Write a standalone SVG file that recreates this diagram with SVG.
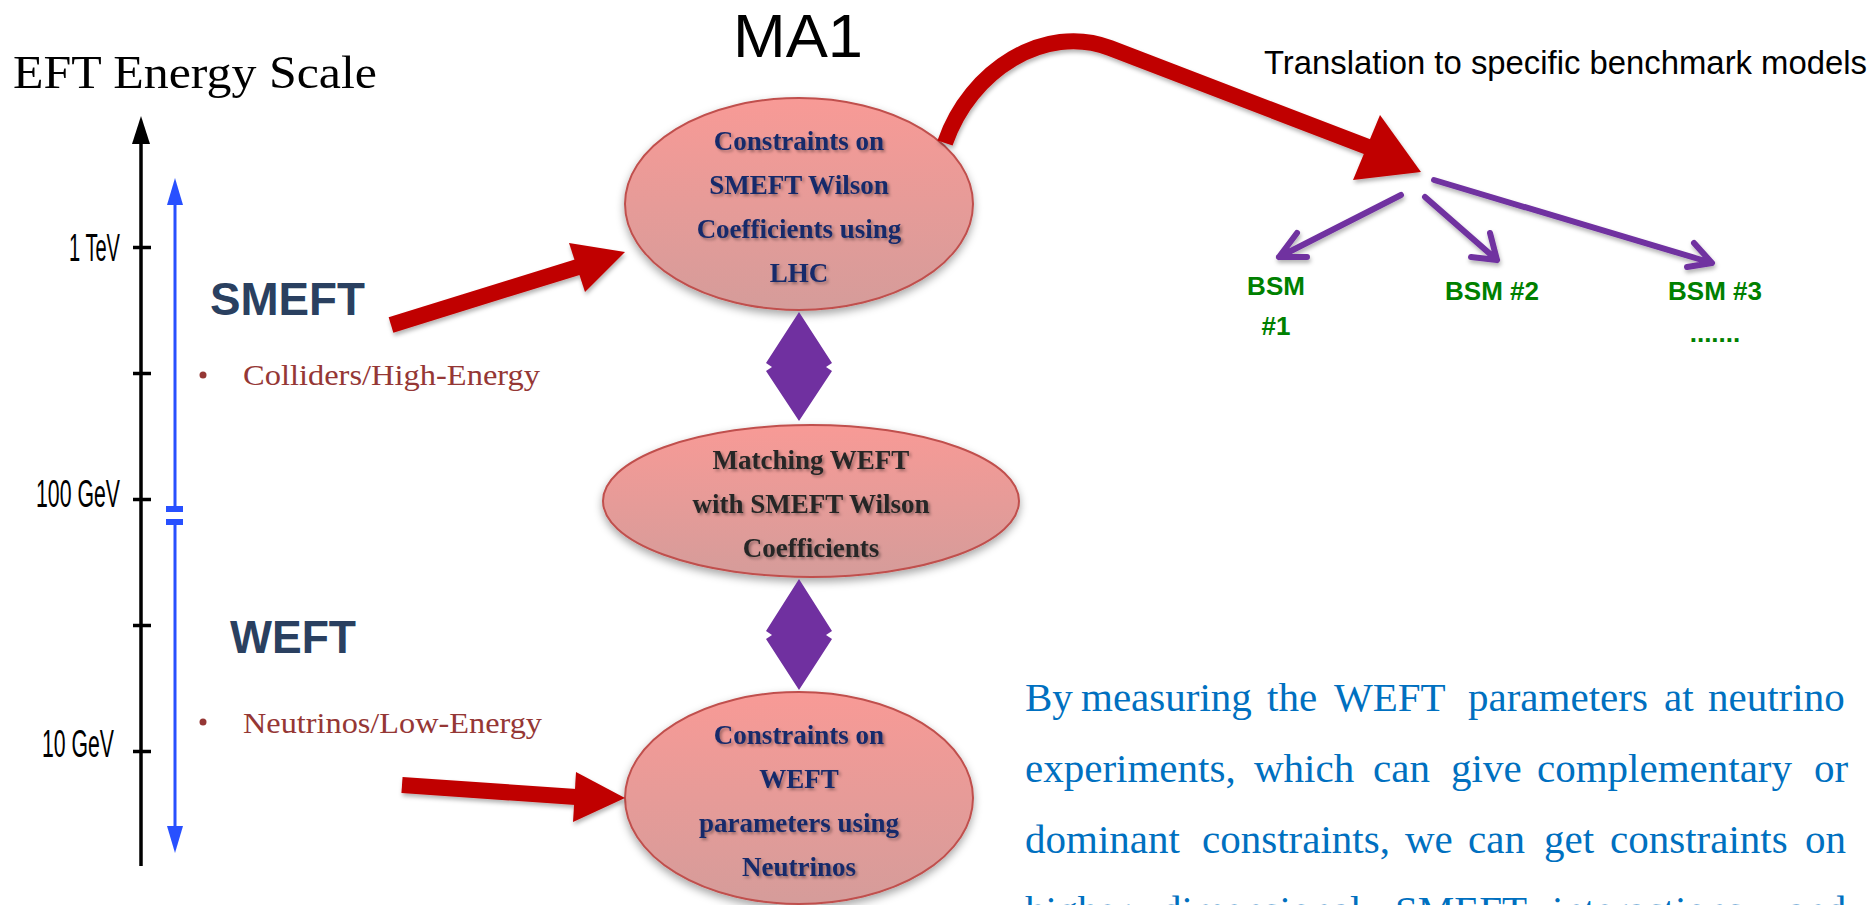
<svg xmlns="http://www.w3.org/2000/svg" width="1875" height="905" viewBox="0 0 1875 905">
<defs>
<linearGradient id="pink" x1="0" y1="0" x2="0" y2="1">
<stop offset="0" stop-color="#f89a96"/>
<stop offset="1" stop-color="#d59c9a"/>
</linearGradient>
<filter id="shadow" x="-20%" y="-20%" width="140%" height="150%">
<feDropShadow dx="0" dy="4" stdDeviation="4" flood-color="#000" flood-opacity="0.35"/>
</filter>
<filter id="tshadow" x="-10%" y="-30%" width="120%" height="160%">
<feDropShadow dx="2" dy="2" stdDeviation="1.5" flood-color="#000" flood-opacity="0.35"/>
</filter>
<filter id="ashadow" x="-10%" y="-10%" width="120%" height="130%">
<feDropShadow dx="1" dy="3" stdDeviation="2" flood-color="#000" flood-opacity="0.3"/>
</filter>
<style>
.ell{fill:url(#pink);stroke:#c0504d;stroke-width:2;filter:url(#shadow)}
.etxt{font-family:"Liberation Serif",serif;font-weight:bold;font-size:27px;text-anchor:middle;filter:url(#tshadow)}
.navy{fill:#172a6b}
.dark{fill:#262626}
.tick{stroke:#000;stroke-width:3.5}
.tlabel{font-family:"Liberation Sans",sans-serif;font-size:38px;fill:#000}
.eft{font-family:"Liberation Sans",sans-serif;font-weight:bold;font-size:46px;fill:#2a4060}
.bul{font-family:"Liberation Serif",serif;font-size:30px;fill:#953735}
.bsm{font-family:"Liberation Sans",sans-serif;font-weight:bold;font-size:26px;fill:#008000;text-anchor:middle}
.para{font-family:"Liberation Serif",serif;font-size:41px;fill:#0070c0}
.red{stroke:#c00000;fill:none;stroke-width:16}
.redh{fill:#c00000}
.pur{stroke:#7030a0;fill:none;stroke-width:6;stroke-linecap:round;stroke-linejoin:round}
.dia{fill:#7030a0}
</style>
</defs>
<rect width="1875" height="905" fill="#fff"/>

<g id="title-eft-scale">
<text x="13" y="88" font-family="Liberation Serif, serif" font-size="47" fill="#000" textLength="364" lengthAdjust="spacingAndGlyphs">EFT Energy Scale</text>
</g>

<g id="title-ma1">
<text x="733" y="57" font-family="Liberation Sans, sans-serif" font-size="62" fill="#000" textLength="130" lengthAdjust="spacingAndGlyphs">MA1</text>
</g>

<g id="energy-axis">
<line x1="141" y1="866" x2="141" y2="140" stroke="#000" stroke-width="3.5"/>
<polygon points="141,116 132,144 150,144" fill="#000"/>
<line class="tick" x1="133" y1="247.5" x2="151" y2="247.5"/>
<line class="tick" x1="133" y1="373.5" x2="151" y2="373.5"/>
<line class="tick" x1="133" y1="499.5" x2="151" y2="499.5"/>
<line class="tick" x1="133" y1="625.5" x2="151" y2="625.5"/>
<line class="tick" x1="133" y1="751.5" x2="151" y2="751.5"/>
<text class="tlabel" x="69" y="261" textLength="51" lengthAdjust="spacingAndGlyphs">1 TeV</text>
<text class="tlabel" x="36" y="507" textLength="84" lengthAdjust="spacingAndGlyphs">100 GeV</text>
<text class="tlabel" x="42" y="757" textLength="72" lengthAdjust="spacingAndGlyphs">10 GeV</text>
</g>

<g id="range-arrow">
<line x1="175" y1="200" x2="175" y2="507" stroke="#2850ff" stroke-width="3"/>
<polygon points="175,178 167,205 183,205" fill="#2850ff"/>
<rect x="166" y="506" width="17" height="6" fill="#2850ff"/>
<rect x="166" y="519" width="17" height="6" fill="#2850ff"/>
<line x1="175" y1="524" x2="175" y2="832" stroke="#2850ff" stroke-width="3"/>
<polygon points="175,853 167,826 183,826" fill="#2850ff"/>
</g>

<g id="smeft-label">
<text class="eft" x="210" y="315" textLength="155" lengthAdjust="spacingAndGlyphs">SMEFT</text>
<circle cx="203" cy="375" r="3.5" fill="#953735"/>
<text class="bul" x="243" y="385" textLength="297" lengthAdjust="spacingAndGlyphs">Colliders/High-Energy</text>
</g>

<g id="weft-label">
<text class="eft" x="230" y="653" textLength="126" lengthAdjust="spacingAndGlyphs">WEFT</text>
<circle cx="203" cy="722" r="3.5" fill="#953735"/>
<text class="bul" x="243" y="733" textLength="299" lengthAdjust="spacingAndGlyphs">Neutrinos/Low-Energy</text>
</g>

<g id="node-smeft-lhc">
<ellipse class="ell" cx="799" cy="204" rx="174" ry="106"/>
<text class="etxt navy" x="799" y="150">Constraints on</text>
<text class="etxt navy" x="799" y="194">SMEFT Wilson</text>
<text class="etxt navy" x="799" y="238">Coefficients using</text>
<text class="etxt navy" x="799" y="282">LHC</text>
</g>

<g id="node-matching">
<ellipse class="ell" cx="811" cy="501" rx="208" ry="76"/>
<text class="etxt dark" x="811" y="469">Matching WEFT</text>
<text class="etxt dark" x="811" y="513">with SMEFT Wilson</text>
<text class="etxt dark" x="811" y="557">Coefficients</text>
</g>

<g id="node-weft-neutrinos">
<ellipse class="ell" cx="799" cy="798" rx="174" ry="106"/>
<text class="etxt navy" x="799" y="744">Constraints on</text>
<text class="etxt navy" x="799" y="788">WEFT</text>
<text class="etxt navy" x="799" y="832">parameters using</text>
<text class="etxt navy" x="799" y="876">Neutrinos</text>
</g>

<g id="node-translation">
<text x="1264" y="74" font-family="Liberation Sans, sans-serif" font-size="33" fill="#000" textLength="603" lengthAdjust="spacingAndGlyphs">Translation to specific benchmark models</text>
</g>

<g id="node-bsm1">
<text class="bsm" x="1276" y="295">BSM</text>
<text class="bsm" x="1276" y="335">#1</text>
</g>
<g id="node-bsm2">
<text class="bsm" x="1492" y="300">BSM #2</text>
</g>
<g id="node-bsm3">
<text class="bsm" x="1715" y="300">BSM #3</text>
<text class="bsm" x="1715" y="342">.......</text>
</g>

<g id="connectors">
<g filter="url(#ashadow)">
<line class="red" x1="391" y1="325" x2="578" y2="267"/>
<polygon class="redh" points="569,243 625,252 585,292"/>
<line class="red" x1="402" y1="785" x2="576" y2="797"/>
<polygon class="redh" points="576,772 625,798 573,822"/>
<path class="red" stroke-width="20" d="M 945 143 C 970 70, 1045 23, 1110 48 L 1368 147"/>
<polygon class="redh" points="1380,115 1421,172 1353,180"/>
</g>
<polygon class="dia" points="799,312 832,363 826,367 832,371 799,421 766,371 772,367 766,363"/>
<polygon class="dia" points="799,579 832,631 826,635 832,639 799,690 766,639 772,635 766,631"/>
<g filter="url(#ashadow)">
<path class="pur" d="M 1401 195 L 1279 257 M 1297 233 L 1279 257 L 1307 257"/>
<path class="pur" d="M 1425 197 L 1497 260 M 1490 233 L 1497 260 L 1471 257"/>
<path class="pur" d="M 1434 180 L 1712 263 M 1694 243 L 1712 263 L 1687 267"/>
</g>
</g>

<g id="explanation" class="para">
<text y="711"><tspan x="1025">By</tspan><tspan x="1081">measuring</tspan><tspan x="1267">the</tspan><tspan x="1334">WEFT</tspan><tspan x="1468">parameters</tspan><tspan x="1664">at</tspan><tspan x="1708">neutrino</tspan></text>
<text y="782"><tspan x="1025">experiments,</tspan><tspan x="1254">which</tspan><tspan x="1373">can</tspan><tspan x="1451">give</tspan><tspan x="1537">complementary</tspan><tspan x="1814">or</tspan></text>
<text y="853"><tspan x="1025">dominant</tspan><tspan x="1202">constraints,</tspan><tspan x="1405">we</tspan><tspan x="1468">can</tspan><tspan x="1544">get</tspan><tspan x="1610">constraints</tspan><tspan x="1805">on</tspan></text>
<text y="924"><tspan x="1025">higher</tspan><tspan x="1161">dimensional</tspan><tspan x="1395">SMEFT</tspan><tspan x="1552">interactions</tspan><tspan x="1787">and</tspan></text>
</g>
</svg>
